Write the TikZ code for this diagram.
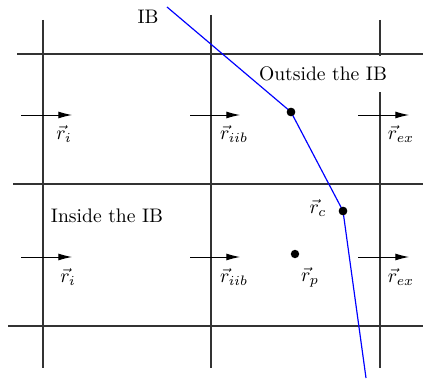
\documentclass[tikz,border=0pt]{standalone}
\usetikzlibrary{arrows.meta}
\begin{document}
\begin{tikzpicture}[x=0.51pt,y=-0.51pt,
  grid/.style={draw=black!80,line width=0.55pt},
  flow/.style={draw=black,line width=0.5pt,-{Latex[length=7pt,width=3.6pt]}},
  ibline/.style={draw=blue,line width=0.6pt},
  pt/.style={circle,fill=black,inner sep=0pt,minimum size=4.3pt},
  lbl/.style={inner sep=0pt}]
\useasboundingbox (0,0) rectangle (423,380);
% grid lines
\coordinate (h1a) at (17,54);  \coordinate (h1b) at (423,54);
\coordinate (h2a) at (13,184); \coordinate (h2b) at (423,184);
\coordinate (h3a) at (8,326);  \coordinate (h3b) at (423,326);
\coordinate (v1a) at (43,20);  \coordinate (v1b) at (43,368);
\coordinate (v2a) at (211,15); \coordinate (v2b) at (211,368);
\coordinate (v3a) at (380,20); \coordinate (v3b) at (380,368);
\draw[grid] (h1a) -- (h1b);
\draw[grid] (h2a) -- (h2b);
\draw[grid] (h3a) -- (h3b);
\draw[grid] (v1a) -- (v1b);
\draw[grid] (v2a) -- (v2b);
\draw[grid] (v3a) -- (v3b);
% label covering line
\node[fill=white,inner xsep=1pt,inner ysep=5.7pt] (out) at (323,74) {Outside the IB};
% arrows
\coordinate (a1s) at (21,115);  \coordinate (a1e) at (72,115);
\coordinate (a2s) at (190,115); \coordinate (a2e) at (240,115);
\coordinate (a3s) at (358,115); \coordinate (a3e) at (409,115);
\coordinate (b1s) at (21,257);  \coordinate (b1e) at (72,257);
\coordinate (b2s) at (190,257); \coordinate (b2e) at (240,257);
\coordinate (b3s) at (358,257); \coordinate (b3e) at (409,257);
\draw[flow] (a1s) -- (a1e);
\draw[flow] (a2s) -- (a2e);
\draw[flow] (a3s) -- (a3e);
\draw[flow] (b1s) -- (b1e);
\draw[flow] (b2s) -- (b2e);
\draw[flow] (b3s) -- (b3e);
% IB line
\coordinate (ib0) at (167,7);
\node[pt] (p1) at (291,112) {};
\node[pt] (pc) at (343,211) {};
\node[pt] (pp) at (295,254) {};
\coordinate (ib3) at (366,378);
\draw[ibline] (ib0) -- (p1.center) -- (pc.center) -- (ib3);
\node[pt] at (p1) {};
\node[pt] at (pc) {};
% labels
\node[lbl] (ib) at (148,17) {IB};
\node[lbl] (in) at (107,216) {Inside the IB};
\node[lbl] (ri1) at (64,134) {$\vec{r}_i$};
\node[lbl] (rb1) at (234,134) {$\vec{r}_{iib}$};
\node[lbl] (re1) at (401,134) {$\vec{r}_{ex}$};
\node[lbl] (ri2) at (68,277) {$\vec{r}_i$};
\node[lbl] (rb2) at (234,277) {$\vec{r}_{iib}$};
\node[lbl] (rp) at (310,277) {$\vec{r}_p$};
\node[lbl] (re2) at (401,277) {$\vec{r}_{ex}$};
\node[lbl] (rc) at (318,208) {$\vec{r}_c$};
\end{tikzpicture}
\end{document}
